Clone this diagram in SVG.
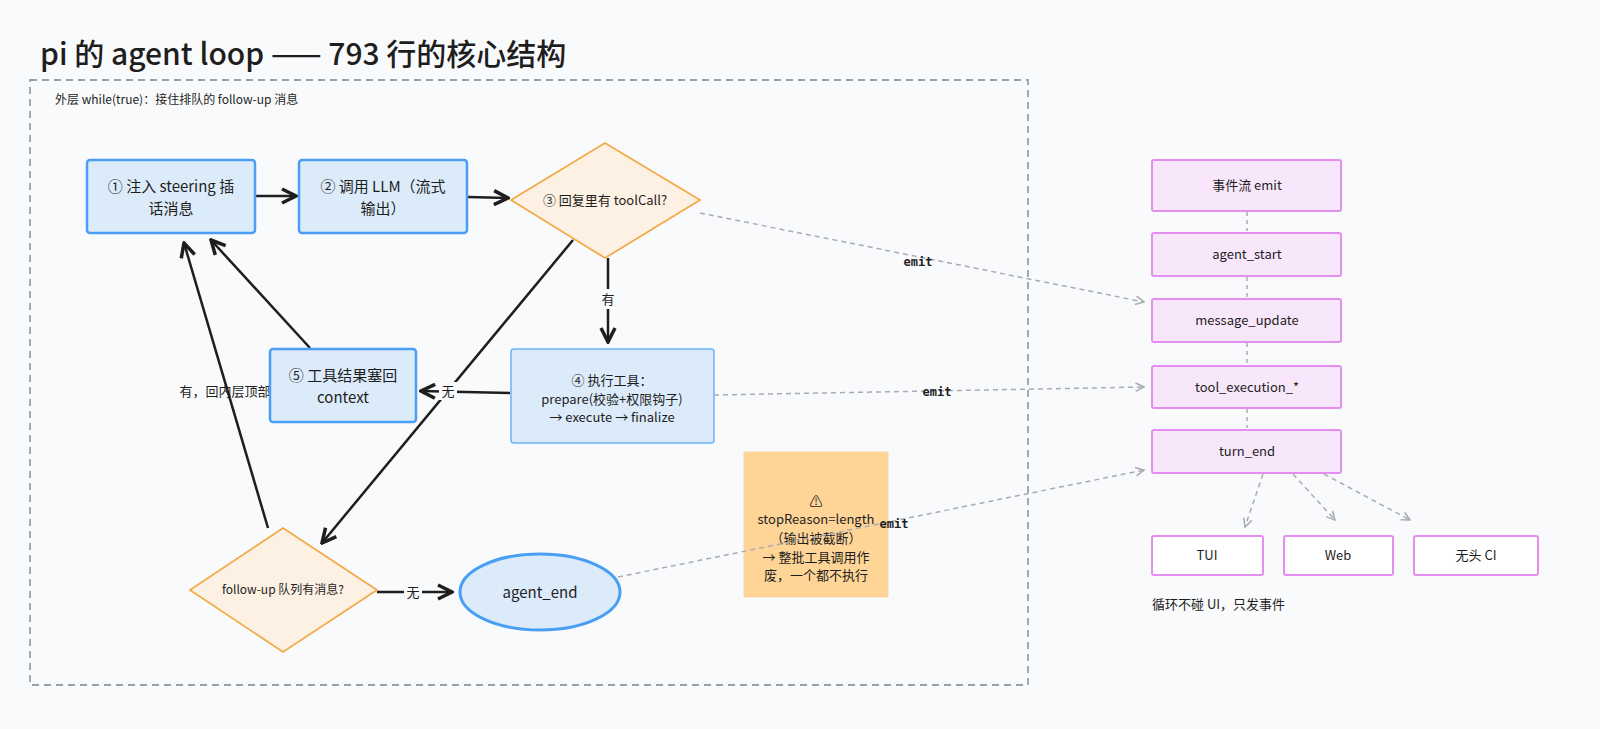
<svg xmlns="http://www.w3.org/2000/svg" width="1600" height="729" viewBox="0 0 1600 729">
<defs>
<marker id="ah" viewBox="0 0 10 10" refX="9" refY="5" markerWidth="7" markerHeight="7" orient="auto-start-reverse"><path d="M1,1 L9,5 L1,9" fill="none" stroke="#1e1e1e" stroke-width="2"/></marker>
<marker id="ag" viewBox="0 0 10 10" refX="9" refY="5" markerWidth="7" markerHeight="7" orient="auto"><path d="M1,1 L9,5 L1,9" fill="none" stroke="#a9acb3" stroke-width="1.5"/></marker>
</defs>
<style>
text{font-family:"Noto Sans CJK SC","Noto Sans",sans-serif;fill:#1e1e1e;text-anchor:middle}
.blue{fill:#dcebfa;stroke:#4a9ff5;stroke-width:2.5}
.blue2{fill:#dcebfa;stroke:#6cb2f3;stroke-width:1.5}
.dia{fill:#fdf1e3;stroke:#f3ab4a;stroke-width:1.8}
.pink{fill:#f8e7fb;stroke:#e48ef0;stroke-width:2}
.pinkw{fill:#fff;stroke:#e48ef0;stroke-width:2}
.k{stroke:#1e1e1e;stroke-width:2.5;fill:none;marker-end:url(#ah)}
.g{stroke:#a9acb3;stroke-width:1.5;fill:none;stroke-dasharray:5 4;marker-end:url(#ag)}
.gs{stroke:#a9acb3;stroke-width:1.5;fill:none;stroke-dasharray:4 4}
.t15{font-size:15px}
.t13{font-size:13px}
.emit{font-family:"DejaVu Sans Mono",monospace;font-size:12px;font-weight:bold}
</style>
<rect width="1600" height="729" fill="#f9fafc"/>
<text x="40" y="65" style="font-size:30px;text-anchor:start;font-weight:500">pi 的 agent loop —— 793 行的核心结构</text>
<rect x="30" y="80" width="998" height="605" fill="none" stroke="#9aa0a8" stroke-width="1.8" stroke-dasharray="7 5"/>
<text x="55" y="104" style="font-size:12px;text-anchor:start">外层 while(true)：接住排队的 follow-up 消息</text>

<g id="note"><rect x="744" y="452" width="144" height="145" fill="#fed597" stroke="#fcd6a0"/><text x="816" y="506" class="t13">⚠</text><text x="816" y="512" class="t13" dy="12">stopReason=length</text><text x="816" y="543" class="t13">（输出被截断）</text><text x="816" y="562" class="t13">→ 整批工具调用作</text><text x="816" y="580" class="t13">废，一个都不执行</text></g>

<g id="connectors">
<line class="k" x1="256" y1="196" x2="296" y2="196"/>
<line class="k" x1="468" y1="197" x2="508" y2="198"/>
<line class="k" x1="608" y1="258" x2="608" y2="342"/>
<line class="k" x1="510" y1="393" x2="421" y2="391"/>
<line class="k" x1="310" y1="348" x2="211" y2="240"/>
<line class="k" x1="573" y1="240" x2="322" y2="543"/>
<line class="k" x1="268" y1="528" x2="184" y2="243"/>
<line class="k" x1="377" y1="592" x2="452" y2="592"/>
<rect x="598" y="289" width="20" height="20" fill="#f9fafc"/>
<text x="608" y="304" class="t13">有</text>
<rect x="439" y="382" width="18" height="18" fill="#f9fafc"/>
<text x="448" y="396" class="t13">无</text>
<text x="225" y="396" class="t13">有，回内层顶部</text>
<rect x="404" y="583" width="18" height="18" fill="#f9fafc"/>
<text x="413" y="597" class="t13">无</text>
<line class="g" x1="700" y1="213" x2="1144" y2="302"/>
<line class="g" x1="714" y1="395" x2="1144" y2="387"/>
<line class="g" x1="618" y1="577" x2="1144" y2="470"/>
<text x="918" y="266" class="emit">emit</text>
<text x="937" y="396" class="emit">emit</text>
<text x="894" y="528" class="emit">emit</text>
<line class="gs" x1="1247" y1="212" x2="1247" y2="231"/>
<line class="gs" x1="1247" y1="277" x2="1247" y2="297"/>
<line class="gs" x1="1247" y1="343" x2="1247" y2="364"/>
<line class="gs" x1="1247" y1="409" x2="1247" y2="428"/>
<line class="g" x1="1263" y1="474" x2="1245" y2="527"/>
<line class="g" x1="1293" y1="474" x2="1335" y2="520"/>
<line class="g" x1="1324" y1="474" x2="1410" y2="520"/>
</g>

<g id="n1"><rect class="blue" x="87" y="160" width="168" height="73" rx="3"/><text x="171" y="192" class="t15">① 注入 steering 插</text><text x="171" y="214" class="t15">话消息</text></g>
<g id="n2"><rect class="blue" x="299" y="160" width="168" height="73" rx="3"/><text x="383" y="192" class="t15">② 调用 LLM（流式</text><text x="383" y="214" class="t15">输出）</text></g>
<g id="n3"><polygon class="dia" points="605,143 700,200 605,258 511,200"/><text x="605" y="205" class="t13">③ 回复里有 toolCall?</text></g>
<g id="n4"><rect class="blue2" x="511" y="349" width="203" height="94" rx="3"/><text x="612" y="385" class="t13">④ 执行工具：</text><text x="612" y="404" class="t13">prepare(校验+权限钩子)</text><text x="612" y="422" class="t13">→ execute → finalize</text></g>
<g id="n5"><rect class="blue" x="270" y="349" width="146" height="73" rx="3"/><text x="343" y="381" class="t15">⑤ 工具结果塞回</text><text x="343" y="403" class="t15">context</text></g>
<g id="n6"><polygon class="dia" points="283,528 377,590 283,652 190,590"/><text x="283" y="594" style="font-size:12px">follow-up 队列有消息?</text></g>
<g id="n7"><ellipse cx="540" cy="592" rx="80" ry="38" fill="#dcebfa" stroke="#4a9ff5" stroke-width="3"/><text x="540" y="598" class="t15">agent_end</text></g>

<g id="e1"><rect class="pink" x="1152" y="160" width="189" height="51" rx="2"/><text x="1247" y="190" class="t13">事件流 emit</text></g>
<g id="e2"><rect class="pink" x="1152" y="233" width="189" height="43" rx="2"/><text x="1247" y="259" class="t13">agent_start</text></g>
<g id="e3"><rect class="pink" x="1152" y="299" width="189" height="43" rx="2"/><text x="1247" y="325" class="t13">message_update</text></g>
<g id="e4"><rect class="pink" x="1152" y="366" width="189" height="42" rx="2"/><text x="1247" y="392" class="t13">tool_execution_*</text></g>
<g id="e5"><rect class="pink" x="1152" y="430" width="189" height="43" rx="2"/><text x="1247" y="456" class="t13">turn_end</text></g>
<g id="u1"><rect class="pinkw" x="1152" y="536" width="111" height="39" rx="2"/><text x="1207" y="560" class="t13">TUI</text></g>
<g id="u2"><rect class="pinkw" x="1284" y="536" width="109" height="39" rx="2"/><text x="1338" y="560" class="t13">Web</text></g>
<g id="u3"><rect class="pinkw" x="1414" y="536" width="124" height="39" rx="2"/><text x="1476" y="560" class="t13">无头 CI</text></g>
<text x="1152" y="609" class="t13" style="text-anchor:start">循环不碰 UI，只发事件</text>
</svg>
